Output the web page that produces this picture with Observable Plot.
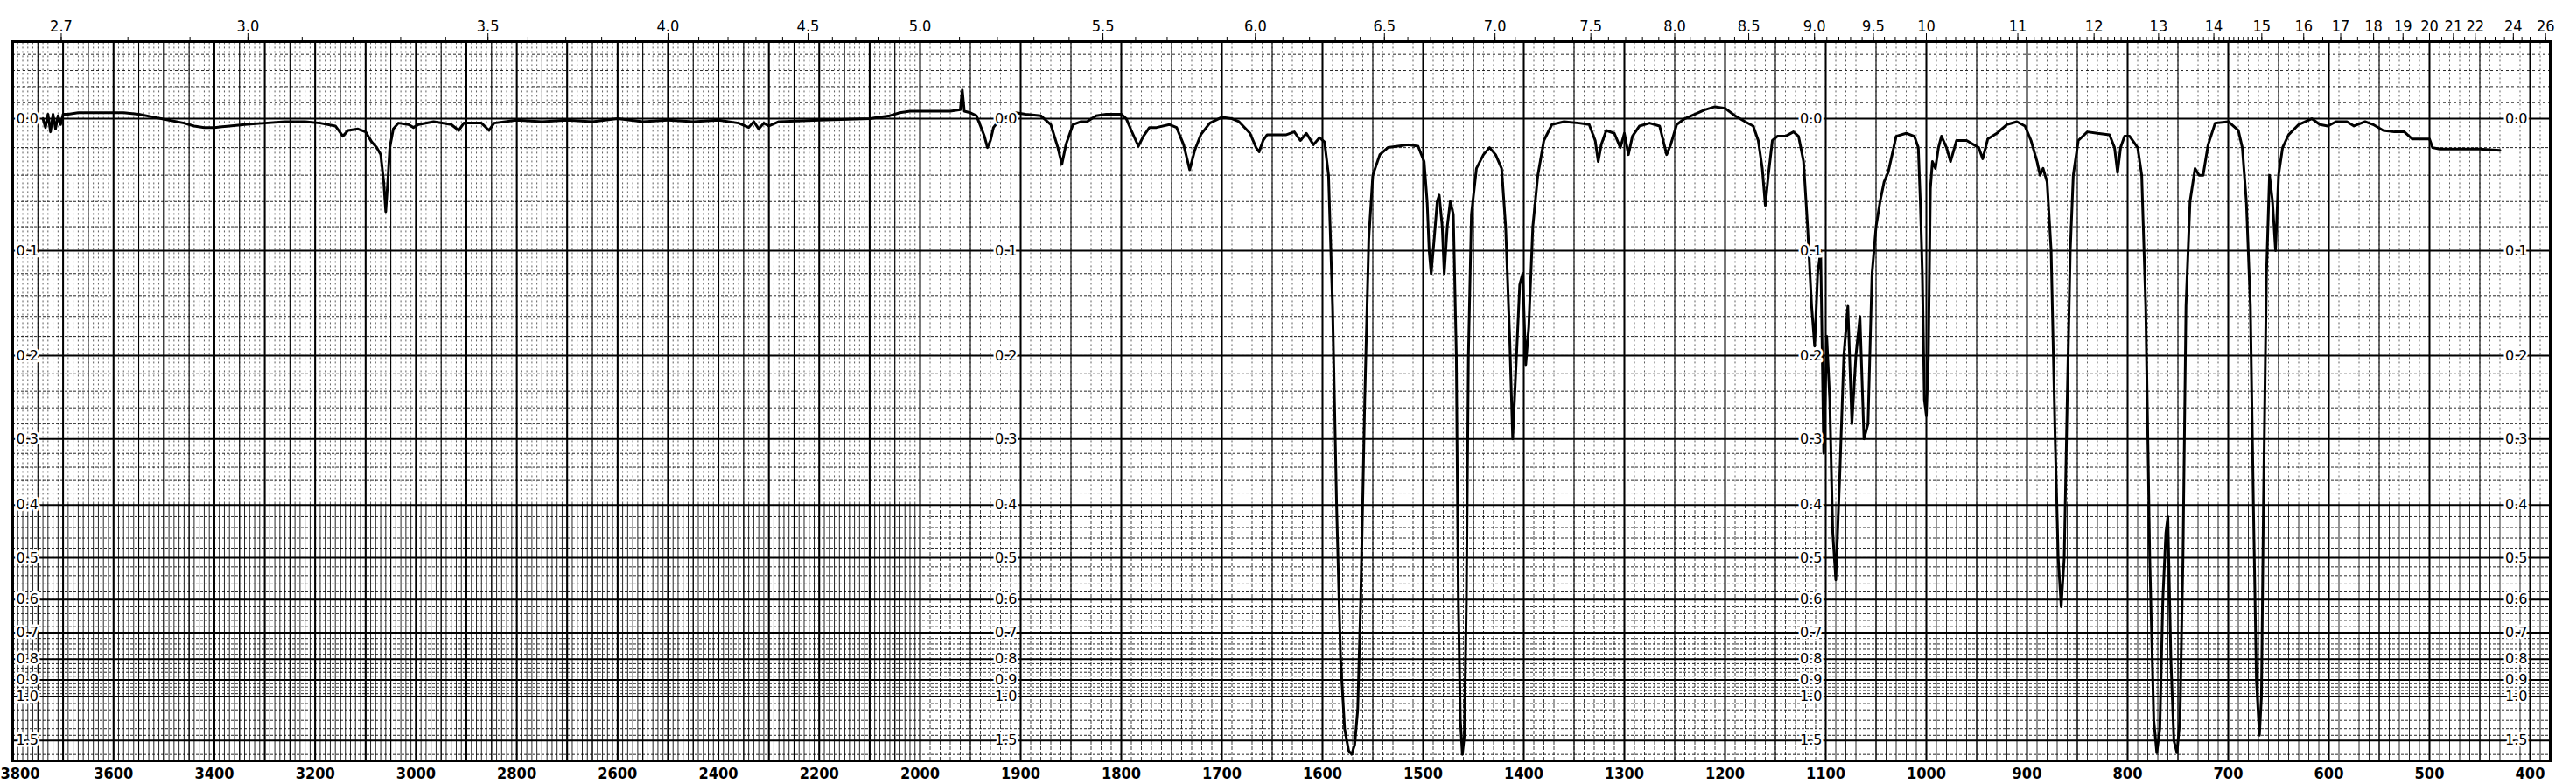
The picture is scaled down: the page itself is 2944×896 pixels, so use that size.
<!DOCTYPE html>
<html><head><meta charset="utf-8">
<script src="https://cdn.jsdelivr.net/npm/d3@7"></script>
<script src="https://cdn.jsdelivr.net/npm/@observablehq/plot@0.6"></script>
<style>
html,body{margin:0;padding:0;background:#fff;}
#chart svg{display:block;background:linear-gradient(#000 0 22px,transparent 22px),linear-gradient(90deg,#000 0 3px,#fff 3px);}
</style></head><body><div id="chart"></div>
<script>
// IR spectrum, absorbance vs wavenumber (cm-1)
const wavenumber = [3740,3735,3730,3725,3720,3715,3710,3705,3700,3690,3670,3640,3610,3580,3550,3520,3490,3460,3440,3420,3400,3370,3340,3300,3260,3220,3190,3160,3145,3135,3115,3100,3088,3078,3070,3064,3060,3056,3052,3045,3035,3015,3005,2995,2965,2930,2915,2905,2870,2855,2845,2800,2750,2700,2650,2600,2550,2500,2450,2400,2360,2340,2330,2320,2310,2300,2280,2200,2100,2060,2040,2020,2000,
1990,1970,1960,1958,1956,1950,1944,1941,1936,1933,1930,1927,1920,1912,1905,1895,1880,1870,1863,1859,1855,1848,1840,1834,1825,1815,1800,1795,1790,1783,1778,1772,1765,1752,1745,1738,1732,1727,1721,1712,1700,1690,1683,1672,1666,1663,1659,1655,1645,1636,1628,1622,1616,1609,1603,1598,1594,1590,1586,1582,1578,1574,1571,1568,1565,1562,1558,1554,1550,1543,1535,1525,1515,1505,1499,1496,1494,1492,1489,1486,1484,1481,1479,1476,1473,1470,1467,1465,1463,1461,1459,1457,1455,1452,1447,1440,1434,1428,1422,1418,1414,1411,1408,1404,1401,1398,1395,1391,1386,1380,1372,1360,1345,1335,1329,1326,1323,1318,1310,1304,1300,1296,1292,1285,1275,1265,1258,1254,1248,1240,1220,1210,1200,1190,1180,1172,1167,1163,1160,1157,1153,1148,1140,1132,1127,1122,1118,1114,1111,1108,1105,1102,1099,1096,1093,1090,1086,1082,1078,1074,1070,1066,1062,1058,1054,1050,1046,1042,1038,1030,1020,1012,1008,1006,1004,1002,1000,998,996,994,991,988,985,980,976,970,960,948,944,939,930,920,910,902,896,890,887,884,880,876,872,869,866,863,860,857,854,849,840,830,818,813,810,807,803,798,790,786,782,778,774,771,768,765,762,760,757,754,751,748,745,742,738,733,729,725,720,713,700,690,686,682,678,675,672,669,667,665,662,659,656,653,650,646,640,630,617,609,601,593,582,575,564,556,546,535,525,517,500,497,490,470,450,430];
const absorbance = [0.0,0.006,-0.003,0.009,-0.003,0.007,-0.002,0.004,-0.003,-0.003,-0.004,-0.004,-0.004,-0.004,-0.003,-0.001,0.001,0.003,0.005,0.006,0.006,0.005,0.004,0.003,0.002,0.002,0.003,0.005,0.012,0.008,0.007,0.009,0.016,0.020,0.025,0.045,0.068,0.045,0.020,0.007,0.003,0.004,0.006,0.004,0.002,0.004,0.008,0.003,0.003,0.008,0.003,0.001,0.002,0.001,0.002,0.0,0.002,0.001,0.002,0.001,0.003,0.006,0.002,0.007,0.003,0.005,0.002,0.001,0.0,-0.002,-0.004,-0.005,-0.005,
-0.005,-0.005,-0.006,-0.019,-0.005,-0.004,-0.002,0.003,0.012,0.020,0.015,0.006,0.0,-0.002,-0.004,-0.003,-0.002,0.004,0.020,0.032,0.018,0.004,0.002,0.002,-0.002,-0.003,-0.003,0.0,0.008,0.019,0.012,0.006,0.006,0.004,0.006,0.018,0.036,0.022,0.011,0.003,-0.001,0.0,0.002,0.010,0.020,0.023,0.015,0.011,0.011,0.011,0.009,0.015,0.010,0.018,0.013,0.016,0.04,0.15,0.4,0.8,1.3,1.8,2.0,1.6,1.1,0.6,0.25,0.09,0.04,0.025,0.02,0.019,0.018,0.019,0.03,0.06,0.10,0.12,0.09,0.06,0.055,0.08,0.12,0.08,0.06,0.07,0.2,0.6,1.2,2.0,1.4,0.6,0.2,0.07,0.035,0.025,0.02,0.025,0.035,0.08,0.18,0.30,0.22,0.13,0.12,0.21,0.17,0.08,0.04,0.015,0.004,0.002,0.003,0.004,0.015,0.03,0.018,0.008,0.01,0.02,0.01,0.025,0.012,0.005,0.003,0.005,0.025,0.018,0.004,0.0,-0.006,-0.008,-0.007,-0.002,0.002,0.005,0.015,0.035,0.063,0.04,0.015,0.012,0.012,0.009,0.012,0.03,0.08,0.15,0.19,0.12,0.10,0.32,0.18,0.25,0.45,0.55,0.35,0.2,0.15,0.28,0.2,0.16,0.3,0.28,0.12,0.08,0.06,0.045,0.038,0.012,0.01,0.012,0.02,0.06,0.12,0.25,0.27,0.2,0.05,0.03,0.035,0.02,0.012,0.02,0.03,0.015,0.015,0.02,0.028,0.014,0.01,0.004,0.002,0.005,0.015,0.03,0.04,0.035,0.045,0.1,0.3,0.5,0.62,0.5,0.25,0.1,0.04,0.015,0.009,0.01,0.011,0.02,0.038,0.02,0.012,0.012,0.02,0.04,0.15,0.5,1.2,1.9,1.3,0.6,0.45,0.42,0.8,1.5,1.9,1.2,0.5,0.15,0.06,0.035,0.04,0.04,0.018,0.003,0.002,0.008,0.02,0.06,0.15,0.4,0.9,1.4,1.0,0.4,0.12,0.04,0.06,0.1,0.04,0.02,0.011,0.004,0.0,0.004,0.005,0.002,0.002,0.005,0.002,0.004,0.008,0.009,0.009,0.014,0.014,0.02,0.021,0.021,0.021,0.022];

const wavenumberTicks = [3800,3600,3400,3200,3000,2800,2600,2400,2200,2000,1900,1800,1700,1600,1500,1400,1300,1200,1100,1000,900,800,700,600,500,400];
const micronTicks = [2.7,3.0,3.5,4.0,4.5,5.0,5.5,6.0,6.5,7.0,7.5,8.0,8.5,9.0,9.5,10,11,12,13,14,15,16,17,18,19,20,21,22,24,26];
const absorbanceTicks = [0.0,0.1,0.2,0.3,0.4,0.5,0.6,0.7,0.8,0.9,1.0,1.5];

const spectrum = wavenumber.map((w, i) => ({w, a: absorbance[i]}));
const T = a => Math.pow(10, -a);

// chart-paper grid
const vFine = d3.range(3800, 379, -10);
const vFineLowA = d3.range(3800, 2000, -10).concat(d3.range(1100, 379, -10));
const vFineLowB = d3.range(2000, 1100, -10);
const v50 = d3.range(3800, 379, -50);
const v100 = d3.range(3800, 379, -100);
const hTop = [1.025, 1.05, 1.075, 1.1];
const hFine = d3.range(0.02, 0.4, 0.02).concat(d3.range(0.42, 1.0, 0.02), [1.05, 1.1, 1.2, 1.3, 1.4, 2.0]);
const minorMicron = d3.range(2.6, 15, 0.1).concat(d3.range(15, 26.01, 0.5));

const font = "'DejaVu Sans Condensed', 'Liberation Sans Narrow', sans-serif";
const labelFont = "'DejaVu Sans', sans-serif";
const yLabel = (w, anchor, dx) => Plot.text(absorbanceTicks, {x: () => w, y: T, text: a => a.toFixed(1), textAnchor: anchor, dx, fontSize: 16, fontFamily: labelFont, fill: "#000", stroke: "#fff", strokeWidth: 5, paintOrder: "stroke"});
const bottomAxis = (ticks, opts) => Plot.axisX({anchor: "bottom", ticks, tickSize: 0, tickPadding: 8, tickFormat: d => String(d), fontSize: 18, fontWeight: "bold", label: null, ...opts});

const chart = Plot.plot({
  width: 2944, height: 896,
  marginLeft: 14, marginRight: 30, marginTop: 47, marginBottom: 27,
  style: {fontFamily: font, background: "transparent", overflow: "visible"},
  x: {type: "linear", domain: [3800, 2000, 380], range: [14, 1051, 2914]},
  y: {domain: [0, 1.12], axis: null},
  marks: [
    Plot.ruleX(vFine, {y1: 0.40, y2: 1.12, stroke: "#000", strokeWidth: 0.8, strokeDasharray: "2,3", strokeOpacity: 0.8}),
    Plot.ruleX(vFineLowA, {y1: 0, y2: 0.40, stroke: "#000", strokeWidth: 1, strokeOpacity: 0.85}),
    Plot.ruleX(vFineLowB, {y1: 0, y2: 0.40, stroke: "#000", strokeWidth: 0.9, strokeDasharray: "4,2", strokeOpacity: 0.85}),
    Plot.ruleX(v50, {stroke: "#000", strokeWidth: 1.1}),
    Plot.ruleX(v100, {stroke: "#000", strokeWidth: 2}),
    Plot.ruleY(hTop, {stroke: "#000", strokeWidth: 1, strokeDasharray: "3,3", strokeOpacity: 0.85}),
    Plot.ruleY(hFine, {y: T, stroke: "#000", strokeWidth: 1, strokeDasharray: "3,2", strokeOpacity: 0.85}),
    Plot.ruleY(absorbanceTicks, {y: T, stroke: "#000", strokeWidth: 2}),
    Plot.line(spectrum, {x: "w", y: d => T(d.a), stroke: "#000", strokeWidth: 3, strokeLinejoin: "round"}),
    yLabel(3800, "start", 4),
    yLabel(1900, "end", -4),
    yLabel(1100, "end", -4),
    yLabel(400, "end", -3),
    Plot.frame({stroke: "#000", strokeWidth: 3}),
    bottomAxis(wavenumberTicks.slice(0, 1), {textAnchor: "start", dx: -14}),
    bottomAxis(wavenumberTicks.slice(1)),
    Plot.axisX({anchor: "top", ticks: minorMicron.map(m => 10000 / m).filter(v => v <= 3800 && v >= 380), tickSize: 6, tickFormat: () => "", label: null}),
    Plot.axisX({anchor: "top", ticks: micronTicks.map(m => 10000 / m), tickSize: 10, tickPadding: 2, tickFormat: d => { const m = 10000 / d; return m < 10 ? m.toFixed(1) : String(Math.round(m)); }, fontSize: 18, label: null})
  ]
});
document.getElementById("chart").appendChild(chart);
</script></body></html>
